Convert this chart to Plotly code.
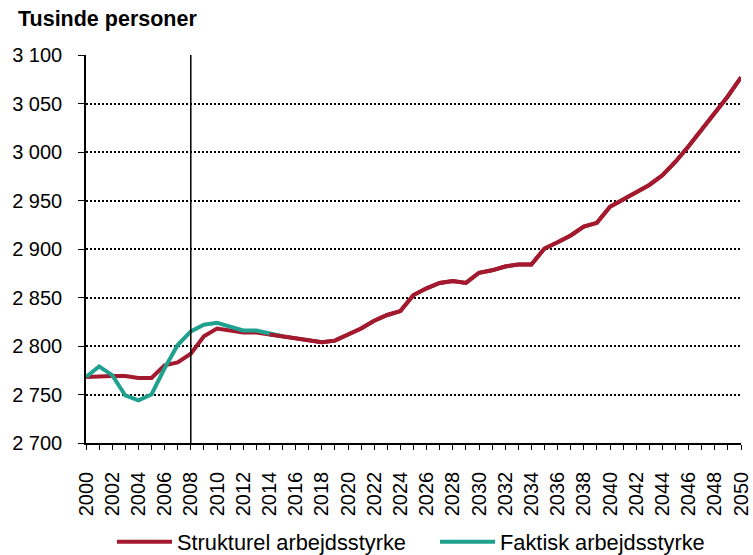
import plotly.graph_objects as go

years = list(range(2000, 2051))
strukturel = [2768, 2769, 2769, 2769, 2767, 2767, 2780, 2783, 2792, 2810,
              2818, 2816, 2814, 2814, 2812, 2810, 2808, 2806, 2804, 2805.5,
              2812, 2818, 2826, 2832, 2836, 2852.5, 2859.5, 2865, 2867, 2865,
              2875.5, 2878, 2882, 2884, 2884, 2900.5, 2907, 2914, 2923, 2927,
              2943.5, 2951, 2959, 2966, 2976, 2990, 3006, 3023, 3039, 3057.5,
              3077]
faktisk_years = list(range(2000, 2016))
faktisk = [2768, 2779, 2770, 2749, 2744, 2750, 2777, 2801, 2815, 2822,
           2824, 2820, 2816, 2816, 2813, 2810]

y_ticks = [2700, 2750, 2800, 2850, 2900, 2950, 3000, 3050, 3100]
y_labels = ["2 700", "2 750", "2 800", "2 850", "2 900", "2 950", "3 000", "3 050", "3 100"]
x_labels = [str(y) if y % 2 == 0 else "" for y in years]

RED = "#A31A2E"
TEAL = "#1FA190"
FONT = "Liberation Sans, Arial, sans-serif"

fig = go.Figure()
fig.add_trace(go.Scatter(x=years, y=strukturel, mode="lines", name="Strukturel arbejdsstyrke",
                         line=dict(color=RED, width=4)))
fig.add_trace(go.Scatter(x=faktisk_years, y=faktisk, mode="lines", name="Faktisk arbejdsstyrke",
                         line=dict(color=TEAL, width=4)))
# redraw structural on top where they overlap
fig.add_trace(go.Scatter(x=years[14:], y=strukturel[14:], mode="lines", showlegend=False,
                         line=dict(color=RED, width=4), hoverinfo="skip"))

fig.add_shape(type="line", x0=2008, x1=2008, xref="x", yref="paper", y0=0, y1=1,
              line=dict(color="black", width=1.5))

fig.update_layout(
    width=753, height=555,
    margin=dict(l=86, r=12, t=55, b=112, autoexpand=False),
    plot_bgcolor="white", paper_bgcolor="white",
    font=dict(family=FONT, size=20, color="black"),
    title=dict(text="<b>Tusinde personer</b>", x=18/753, xanchor="left",
               y=1-18/555, yanchor="middle", font=dict(size=21.5, family=FONT)),
    showlegend=True,
    legend=dict(orientation="h", xref="container", x=112/753, xanchor="left",
                yref="container", y=1-542/555, yanchor="middle",
                entrywidth=253, entrywidthmode="pixels", bgcolor="rgba(0,0,0,0)",
                font=dict(size=21.8), itemwidth=55, traceorder="normal"),
)
fig.update_xaxes(range=[2000, 2050], tickmode="array", tickvals=years, ticktext=x_labels,
                 tickangle=-90, ticks="outside", ticklen=5, tickwidth=1, tickcolor="black",
                 showline=True, linecolor="black", linewidth=1.5, showgrid=False,
                 zeroline=False, tickfont=dict(size=20), automargin=False,
                 ticklabelstandoff=14)
fig.update_yaxes(range=[2700, 3100], tickmode="array", tickvals=y_ticks, ticktext=y_labels,
                 ticks="outside", ticklen=6, tickwidth=1, tickcolor="black",
                 showline=True, linecolor="black", linewidth=1.5,
                 showgrid=True, gridcolor="black", gridwidth=1.5, griddash="2px,2px",
                 zeroline=False, tickfont=dict(size=20), automargin=False,
                 ticklabelstandoff=12)

fig.write_html("out.html", config={"displayModeBar": False},
               post_script="document.body.style.margin='0';document.body.style.padding='0';")
